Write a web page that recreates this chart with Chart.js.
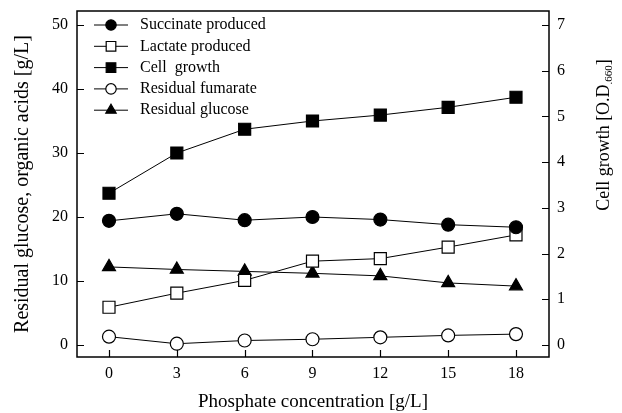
<!DOCTYPE html>
<html><head><meta charset="utf-8">
<script src="https://cdn.jsdelivr.net/npm/chart.js@4"></script>
<style>html,body{margin:0;padding:0;background:#fff}#wrap{width:622px;height:413px;position:relative}</style>
</head><body><div id="wrap"><canvas id="c" width="622" height="413"></canvas></div>
<script>
const phosphate = [0, 3, 6, 9, 12, 15, 18];
const succinate = [19.4, 20.5, 19.5, 20.0, 19.6, 18.8, 18.4];
const lactate = [5.9, 8.1, 10.1, 13.1, 13.5, 15.3, 17.2];
const cellGrowth = [3.32, 4.20, 4.72, 4.90, 5.03, 5.20, 5.42];
const fumarate = [1.3, 0.2, 0.7, 0.9, 1.2, 1.5, 1.7];
const glucose = [12.2, 11.8, 11.5, 11.2, 10.8, 9.7, 9.2];
const xTicks = [0, 3, 6, 9, 12, 15, 18];
const leftTicks = [0, 10, 20, 30, 40, 50];
const rightTicks = [0, 1, 2, 3, 4, 5, 6, 7];
const seriesNames = ['Succinate produced', 'Lactate produced', 'Cell  growth', 'Residual fumarate', 'Residual glucose'];

const FONT = 'Liberation Serif';
const pts = arr => phosphate.map((x, i) => ({x: x, y: arr[i]}));

function ds(label, data, style, fill, radius, axis) {
  return {
    label: label, data: pts(data), yAxisID: axis,
    borderColor: '#000', borderWidth: 1,
    pointStyle: style, pointRadius: radius, pointHoverRadius: radius,
    pointBackgroundColor: fill, pointBorderColor: '#000', pointBorderWidth: 1.2,
    tension: 0
  };
}

const datasets = [
  ds(seriesNames[0], succinate, 'circle', '#000', 6.5, 'y'),
  ds(seriesNames[1], lactate, 'rect', '#fff', 8.5, 'y'),
  ds(seriesNames[2], cellGrowth, 'rect', '#000', 8.5, 'y2'),
  ds(seriesNames[3], fumarate, 'circle', '#fff', 6.5, 'y'),
  ds(seriesNames[4], glucose, 'triangle', '#000', 7.5, 'y')
];

const deco = {
  id: 'deco',
  afterDraw(chart) {
    const ctx = chart.ctx;
    const a = chart.chartArea;
    const sx = chart.scales.x, sy = chart.scales.y, sy2 = chart.scales.y2;
    ctx.save();
    ctx.strokeStyle = '#000';
    ctx.lineWidth = 1.5;
    ctx.strokeRect(a.left, a.top, a.right - a.left, a.bottom - a.top);
    ctx.lineWidth = 1.2;
    ctx.beginPath();
    xTicks.forEach(v => { const p = Math.round(sx.getPixelForValue(v)) + 0.5; ctx.moveTo(p, a.bottom); ctx.lineTo(p, a.bottom - 7); });
    leftTicks.forEach(v => { const p = Math.round(sy.getPixelForValue(v)) + 0.5; ctx.moveTo(a.left, p); ctx.lineTo(a.left + 7, p); });
    rightTicks.forEach(v => { const p = Math.round(sy2.getPixelForValue(v)) + 0.5; ctx.moveTo(a.right, p); ctx.lineTo(a.right - 7, p); });
    ctx.stroke();

    // legend
    chart.data.datasets.forEach((d, i) => {
      const y = 25 + i * 21.3;
      ctx.lineWidth = 1;
      ctx.strokeStyle = '#000';
      ctx.beginPath(); ctx.moveTo(94, y); ctx.lineTo(128, y); ctx.stroke();
      ctx.fillStyle = d.pointBackgroundColor;
      ctx.lineWidth = 1.2;
      Chart.helpers.drawPoint(ctx, {pointStyle: d.pointStyle, rotation: 0, radius: d.pointRadius * 0.8, borderWidth: 1.2}, 111, y);
      ctx.fillStyle = '#000';
      ctx.font = '16px "' + FONT + '"';
      ctx.textBaseline = 'middle';
      ctx.textAlign = 'left';
      ctx.fillText(d.label, 140, y);
    });

    // right axis title with subscript
    ctx.translate(603, 135);
    ctx.rotate(-Math.PI / 2);
    const main = 'Cell growth [O.D', sub = '.660', end = ']';
    ctx.font = '18px "' + FONT + '"';
    const w1 = ctx.measureText(main).width, w3 = ctx.measureText(end).width;
    ctx.font = '11px "' + FONT + '"';
    const w2 = ctx.measureText(sub).width;
    let x0 = -(w1 + w2 + w3) / 2;
    ctx.fillStyle = '#000';
    ctx.textBaseline = 'alphabetic';
    ctx.textAlign = 'left';
    ctx.font = '18px "' + FONT + '"';
    ctx.fillText(main, x0, 6);
    ctx.font = '11px "' + FONT + '"';
    ctx.fillText(sub, x0 + w1, 9);
    ctx.font = '18px "' + FONT + '"';
    ctx.fillText(end, x0 + w1 + w2, 6);
    ctx.restore();
  }
};

new Chart(document.getElementById('c'), {
  type: 'line',
  data: {datasets: datasets},
  options: {
    responsive: false, animation: false, devicePixelRatio: 1,
    layout: {padding: {top: 11, left: 0, right: 0, bottom: 0}},
    plugins: {legend: {display: false}, tooltip: {enabled: false}},
    scales: {
      x: {
        type: 'linear', min: -1.415, max: 19.46,
        afterBuildTicks: s => { s.ticks = xTicks.map(v => ({value: v})); },
        afterFit: s => { s.height = 56; s.paddingLeft = 0; s.paddingRight = 0; },
        grid: {display: false, drawTicks: false}, border: {display: false},
        ticks: {color: '#000', font: {family: FONT, size: 16}, padding: 7, maxRotation: 0},
        title: {display: true, text: 'Phosphate concentration [g/L]', color: '#000', font: {family: FONT, size: 19}, padding: {top: 0, bottom: 0}}
      },
      y: {
        type: 'linear', position: 'left', min: -1.875, max: 52.19,
        afterBuildTicks: s => { s.ticks = leftTicks.map(v => ({value: v})); },
        afterFit: s => { s.width = 77; s.paddingTop = 0; s.paddingBottom = 0; },
        grid: {display: false, drawTicks: false}, border: {display: false},
        ticks: {color: '#000', font: {family: FONT, size: 16}, padding: 9},
        title: {display: true, text: 'Residual glucose, organic acids [g/L]', color: '#000', font: {family: FONT, size: 20}, padding: {top: 11, bottom: 0}}
      },
      y2: {
        type: 'linear', position: 'right', min: -0.2625, max: 7.3066,
        afterBuildTicks: s => { s.ticks = rightTicks.map(v => ({value: v})); },
        afterFit: s => { s.width = 73; s.paddingTop = 0; s.paddingBottom = 0; },
        grid: {display: false, drawTicks: false}, border: {display: false},
        ticks: {color: '#000', font: {family: FONT, size: 16}, padding: 8}
      }
    }
  },
  plugins: [deco]
});
</script>
</body></html>
